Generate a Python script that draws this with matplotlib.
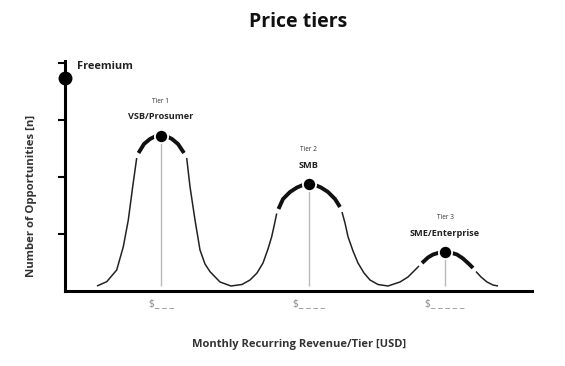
import matplotlib
matplotlib.use("Agg")
import matplotlib.pyplot as plt
import numpy as np

plt.rcParams['font.family'] = ['Open Sans', 'DejaVu Sans']

# schematic curve (x: revenue position, y: opportunities)
curve_x = np.array([3.2, 4.17, 5.17, 5.83, 6.33, 6.77, 7.17, 7.35, 7.9, 8.5, 9.0, 9.6,
                    10.2, 10.7, 11.3, 11.9, 12.17, 12.5, 13.0, 13.5, 14.0, 14.5, 15.5,
                    16.6, 17.7, 18.5, 19.2, 19.8, 20.3, 20.67, 20.95, 21.17, 21.35, 21.8,
                    22.5, 23.2, 23.8, 24.4, 25.0, 25.6, 26.3, 27.0, 27.5, 27.7, 28.0,
                    28.3, 28.8, 29.3, 29.9, 30.5, 31.3, 32.3, 33.5, 34.3, 34.9, 35.4,
                    35.7, 36.3, 36.8, 37.4, 38.0, 38.6, 39.2, 39.8, 40.4, 40.8, 41.1,
                    41.6, 42.2, 42.8, 43.3])
curve_y = np.array([0.088, 0.163, 0.368, 0.777, 1.246, 1.830, 2.333, 2.421, 2.579, 2.667,
                    2.711, 2.728, 2.711, 2.667, 2.579, 2.421, 2.333, 1.830, 1.246, 0.719,
                    0.474, 0.339, 0.158, 0.088, 0.114, 0.193, 0.316, 0.491, 0.737, 0.953,
                    1.175, 1.360, 1.439, 1.614, 1.737, 1.816, 1.860, 1.877, 1.860, 1.816,
                    1.737, 1.614, 1.474, 1.386, 1.193, 0.953, 0.702, 0.491, 0.316, 0.193,
                    0.114, 0.088, 0.158, 0.246, 0.351, 0.439, 0.491, 0.588, 0.640, 0.672,
                    0.684, 0.672, 0.640, 0.570, 0.474, 0.404, 0.342, 0.246, 0.158, 0.105,
                    0.088])

tier_x = [9.6, 24.4, 38.0]
tier_y = [2.728, 1.877, 0.684]
tier_num = ['Tier 1', 'Tier 2', 'Tier 3']
tier_names = ['VSB/Prosumer', 'SMB', 'SME/Enterprise']
price_labels = ['$_ _ _', '$_ _ _ _', '$_ _ _ _ _']
thick_spans = [(7.35, 11.9), (21.35, 27.5), (35.7, 40.8)]
baseline = 0.088
freemium_y = 3.74

fig = plt.figure(figsize=(5.65, 3.66), dpi=100)
ax = fig.add_axes([65 / 565, 75 / 366, 467 / 565, 230 / 366])

in_span = np.zeros(len(curve_x), dtype=bool)
for lo, hi in thick_spans:
    in_span |= (curve_x >= lo) & (curve_x <= hi)

thin_y = np.where(in_span, np.nan, curve_y)
thick_y = np.where(in_span, curve_y, np.nan)
ax.plot(curve_x, thin_y, color='#222222', lw=1.1, solid_capstyle='butt')
ax.plot(curve_x, thick_y, color='#111111', lw=2.8, solid_capstyle='butt')

ax.vlines(tier_x, baseline, tier_y, color='#bbbbbb', lw=1.0, zorder=1)
ax.plot(tier_x, tier_y, 'o', color='black', ms=9.5, mec='white', mew=1.3, zorder=5)

for x, y, num, name in zip(tier_x, tier_y, tier_num, tier_names):
    ax.annotate(name, (x, y), xytext=(0, 13.5), textcoords='offset points',
                ha='center', va='center', fontsize=6.6, fontweight='bold', color='#222222')
    ax.annotate(num, (x, y), xytext=(0, 24.5), textcoords='offset points',
                ha='center', va='center', fontsize=4.7, color='#333333')

# freemium marker sits on the axis
ax.plot([0], [freemium_y], 'o', color='black', ms=9, clip_on=False, zorder=6)
ax.text(1.15, 3.935, 'Freemium', fontsize=7.9, fontweight='bold', color='#222222',
        ha='left', va='center')

ax.set_xlim(0, 46.7)
ax.set_ylim(0, 230 / 57)
ax.spines['top'].set_visible(False)
ax.spines['right'].set_visible(False)
ax.spines['left'].set_linewidth(2.2)
ax.spines['bottom'].set_linewidth(2.2)
ax.set_yticks([1, 2, 3, 4])
ax.set_yticklabels([])
ax.tick_params(axis='y', length=5, width=1.5, direction='out')
ax.set_xticks(tier_x)
ax.set_xticklabels(price_labels, fontsize=7.5, color='#888888')
ax.tick_params(axis='x', length=0, pad=5)

fig.text(0.528, 1 - 22 / 366, 'Price tiers', ha='center', va='center',
         fontsize=14, fontweight='bold', color='#111111')
fig.text(299 / 565, 1 - 345 / 366, 'Monthly Recurring Revenue/Tier [USD]', ha='center',
         va='center', fontsize=8.0, fontweight='bold', color='#333333')
fig.text(32 / 565, 1 - 196 / 366, 'Number of Opportunities [n]', ha='center',
         va='center', rotation=90, fontsize=8.2, fontweight='bold', color='#333333')

fig.savefig('out.png', dpi=100)
